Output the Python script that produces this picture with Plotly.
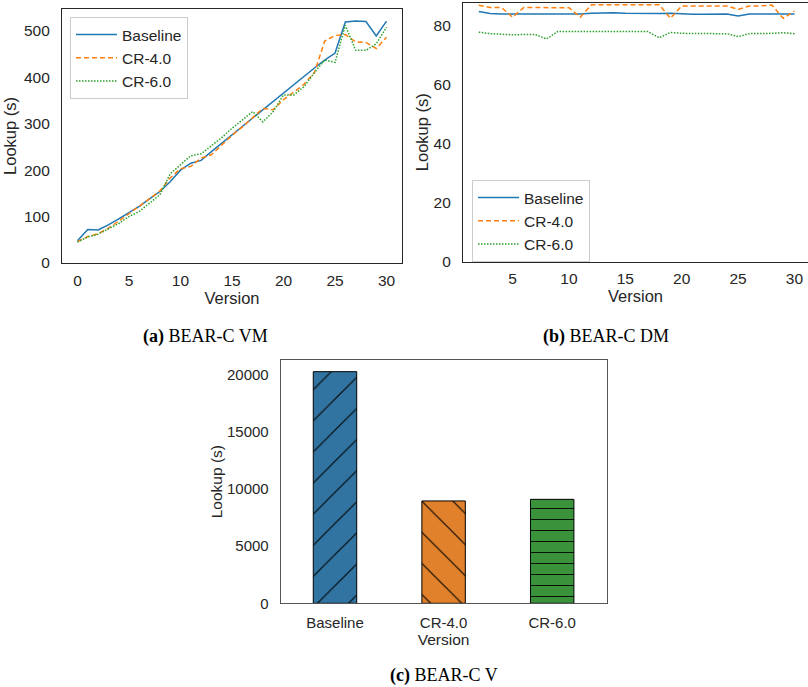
import plotly.graph_objects as go

# ---------------- data ----------------
versions_a = list(range(0, 31))
baseline_a = [48, 72, 71, 82, 95, 109, 122, 138, 154, 175, 200, 215, 221, 240, 258, 277,
              295, 313, 332, 350, 368, 385, 403, 420, 437, 452, 519, 521, 520, 489, 521]
cr4_a = [46, 57, 63, 75, 90, 106, 122, 138, 155, 183, 203, 208, 226, 233, 255, 275,
         293, 312, 333, 330, 352, 368, 385, 410, 478, 490, 492, 476, 475, 462, 486]
cr6_a = [45, 56, 62, 73, 85, 100, 111, 129, 147, 192, 211, 231, 235, 252, 270, 290,
         308, 326, 304, 326, 362, 362, 380, 410, 437, 432, 512, 458, 458, 472, 508]

versions_b = list(range(2, 31))
baseline_b = [84.9, 84.2, 84.1, 84.1, 84.1, 84.1, 84.0, 84.1, 84.1, 84.1, 84.3, 84.4, 84.5, 84.3,
              84.2, 84.2, 84.2, 84.3, 84.1, 84.0, 84.0, 84.1, 84.1, 83.4, 84.1, 84.1, 84.2, 84.1, 84.1]
cr4_b = [87.0, 86.3, 86.3, 83.0, 86.3, 86.2, 86.2, 86.2, 86.2, 83.0, 87.2, 87.2, 87.2, 87.2,
         87.2, 87.2, 87.2, 82.6, 86.8, 86.8, 86.8, 86.8, 86.8, 85.6, 86.8, 86.8, 87.1, 82.6, 85.1]
cr6_b = [77.9, 77.4, 77.2, 77.0, 77.1, 77.1, 75.6, 78.1, 78.1, 78.1, 78.1, 78.1, 78.1, 78.1,
         78.1, 78.1, 76.0, 77.8, 77.5, 77.4, 77.4, 77.4, 77.4, 76.4, 77.4, 77.4, 77.5, 77.7, 77.4]

bar_labels = ["Baseline", "CR-4.0", "CR-6.0"]
bar_values = [20230, 8940, 9080]

series_names = ["Baseline", "CR-4.0", "CR-6.0"]
line_colors = ["#1f77b4", "#ff7f0e", "#2ca02c"]
line_dashes = ["solid", "5px,3px", "1.5px,1.5px"]
bar_colors = ["#3274a1", "#e1812c", "#3a923a"]
bar_hatches = ["/", "\\", "-"]
hatch_sizes = [22, 22, 11]
hatch_solidity = [0.05, 0.05, 0.08]

W, H = 808, 687
SANS = "Liberation Sans, Arial, sans-serif"
SERIF = "Liberation Serif, Times New Roman, serif"
TXT = "#262626"
EDGE = "#262626"

fig = go.Figure()

for name, ys, c, d in zip(series_names, [baseline_a, cr4_a, cr6_a], line_colors, line_dashes):
    fig.add_trace(go.Scatter(x=versions_a, y=ys, name=name, mode="lines",
                             line=dict(color=c, width=1.5, dash=d),
                             xaxis="x", yaxis="y", legend="legend"))
for name, ys, c, d in zip(series_names, [baseline_b, cr4_b, cr6_b], line_colors, line_dashes):
    fig.add_trace(go.Scatter(x=versions_b, y=ys, name=name, mode="lines",
                             line=dict(color=c, width=1.5, dash=d),
                             xaxis="x2", yaxis="y2", legend="legend2"))

for lab, val, col, hatch, hs, sol in zip(bar_labels, bar_values, bar_colors, bar_hatches,
                                         hatch_sizes, hatch_solidity):
    fig.add_trace(go.Bar(x=[lab], y=[val], width=0.4, showlegend=False,
                         xaxis="x3", yaxis="y3",
                         marker=dict(color=col,
                                     line=dict(color="black", width=1),
                                     pattern=dict(shape=hatch, size=hs, solidity=sol,
                                                  fgcolor="black", fgopacity=1,
                                                  fillmode="overlay"))))


def px_x(a, b):
    return [a / W, min(b / W, 1.0)]


def px_y(top, bottom):
    return [1 - bottom / H, 1 - top / H]


axis_common = dict(showgrid=False, zeroline=False, showline=True, linecolor=EDGE,
                   linewidth=1.25, ticks="", tickfont=dict(family=SANS, size=15.5, color=TXT),
                   automargin=False)

fig.update_layout(
    width=W, height=H, margin=dict(l=0, r=0, t=0, b=0, autoexpand=False),
    paper_bgcolor="white", plot_bgcolor="white",
    font=dict(family=SANS, color=TXT),
    barmode="overlay",
    xaxis=dict(axis_common, domain=px_x(62, 402), range=[-1.5, 31.5], tickvals=[0, 5, 10, 15, 20, 25, 30],
               mirror=True, anchor="y", ticklabelstandoff=3,
               title=dict(text="Version", font=dict(family=SANS, size=16.5, color=TXT), standoff=4)),
    yaxis=dict(axis_common, domain=px_y(9, 263), range=[0, 547], tickvals=[0, 100, 200, 300, 400, 500],
               mirror=True, anchor="x", ticklabelstandoff=8,
               title=dict(text="Lookup (s)", font=dict(family=SANS, size=16.5, color=TXT), standoff=3)),
    xaxis2=dict(axis_common, domain=px_x(463, 808), range=[0.6, 31.2], tickvals=[5, 10, 15, 20, 25, 30],
                mirror=True, anchor="y2", ticklabelstandoff=3,
                title=dict(text="Version", font=dict(family=SANS, size=16.5, color=TXT), standoff=4)),
    yaxis2=dict(axis_common, domain=px_y(2.7, 261.7), range=[0, 87.9], tickvals=[0, 20, 40, 60, 80],
                mirror=False, anchor="x2", ticklabelstandoff=8,
                title=dict(text="Lookup (s)", font=dict(family=SANS, size=16.5, color=TXT), standoff=0)),
    xaxis3=dict(axis_common, domain=px_x(280.7, 606.5), range=[-0.5, 2.5], type="category",
                categoryorder="array", categoryarray=bar_labels,
                mirror=True, anchor="y3", linewidth=1, linecolor="#555555", ticklabelstandoff=6,
                tickfont=dict(family=SANS, size=15, color=TXT),
                title=dict(text="Version", font=dict(family=SANS, size=15.5, color=TXT), standoff=2)),
    yaxis3=dict(axis_common, domain=px_y(360, 603.3), range=[0, 21250],
                tickvals=[0, 5000, 10000, 15000, 20000], tickformat="d",
                mirror=True, anchor="x3", linewidth=1, linecolor="#555555", ticklabelstandoff=8,
                tickfont=dict(family=SANS, size=15, color=TXT),
                title=dict(text="Lookup (s)", font=dict(family=SANS, size=15.5, color=TXT), standoff=0)),
    legend=dict(x=70 / W, y=1 - 17 / H, xanchor="left", yanchor="top", itemwidth=41,
                bgcolor="white", bordercolor="#cccccc", borderwidth=1,
                font=dict(family=SANS, size=15.5, color=TXT)),
    legend2=dict(x=472 / W, y=1 - 180 / H, xanchor="left", yanchor="top", itemwidth=41,
                 bgcolor="white", bordercolor="#cccccc", borderwidth=1,
                 font=dict(family=SANS, size=15.5, color=TXT)),
)

captions = [("<b>(a)</b> BEAR-C VM", 205, 336.5),
            ("<b>(b)</b> BEAR-C DM", 605.5, 336.5),
            ("<b>(c)</b> BEAR-C V", 444, 675.5)]
for text, cx, cy in captions:
    fig.add_annotation(text=text, x=cx / W, y=1 - cy / H, xref="paper", yref="paper",
                       xanchor="center", yanchor="middle", showarrow=False,
                       font=dict(family=SERIF, size=18, color="black"))

fig.write_html("out.html")
